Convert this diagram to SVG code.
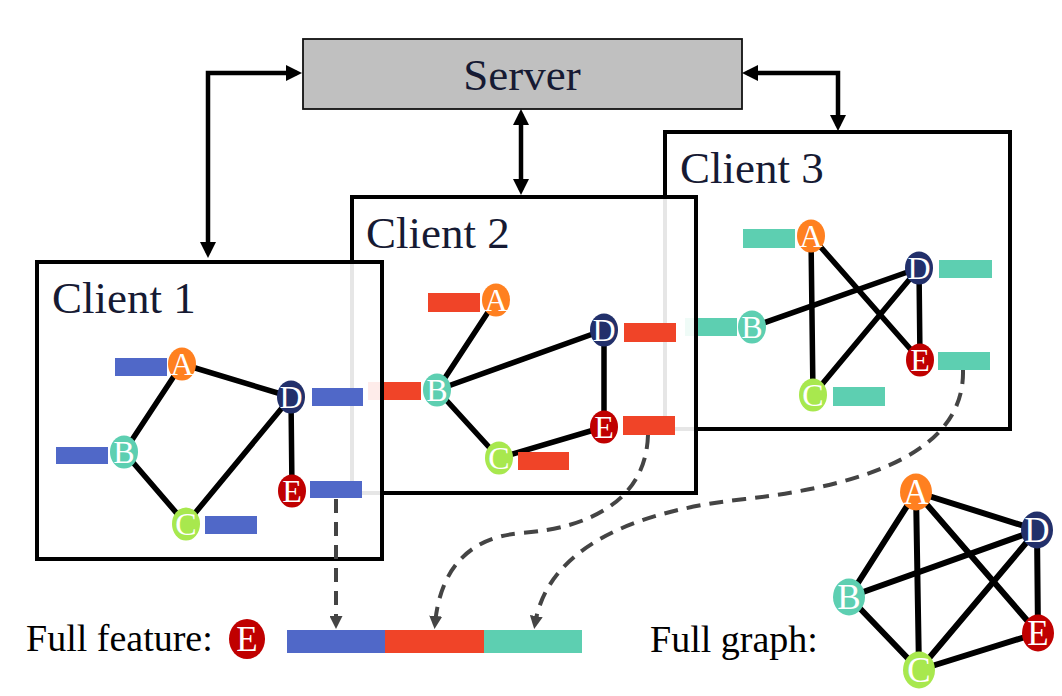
<svg xmlns="http://www.w3.org/2000/svg" width="1062" height="696" viewBox="0 0 1062 696">
<style>
.box{fill:#ffffff;fill-opacity:0.9;stroke:#000;stroke-width:4}
.ttl{font-family:"Liberation Serif","Times New Roman",serif;font-size:45px;fill:#161a33}
.lbl{font-family:"Liberation Serif","Times New Roman",serif;font-size:38px;fill:#000}
.edge{stroke:#000;stroke-width:5.5;stroke-linecap:round}
.fedge{stroke:#000;stroke-width:6;stroke-linecap:round}
.nt{font-family:"Liberation Serif","Times New Roman",serif;font-size:32px;fill:#fff;text-anchor:middle}
.ntb{font-family:"Liberation Serif","Times New Roman",serif;font-size:35px;fill:#fff;text-anchor:middle}
.nA{fill:#ff8020}.nB{fill:#5dcfb1}.nC{fill:#a8e84e}.nD{fill:#22306b}.nE{fill:#c00000}
.fb{fill:#5068c8}.fr{fill:#f04428}.ft{fill:#5dcfb1}
.conn{fill:none;stroke:#000;stroke-width:4.5}
.dash{fill:none;stroke:#444;stroke-width:4;stroke-dasharray:14 9}
</style>
<defs>
<marker id="ah" viewBox="0 0 16 16" refX="11" refY="8" markerWidth="16" markerHeight="16" markerUnits="userSpaceOnUse" orient="auto-start-reverse">
<path d="M0,0 L16,8 L0,16 z" fill="#000"/>
</marker>
<marker id="dh" viewBox="0 0 13 13" refX="8" refY="6.5" markerWidth="13" markerHeight="13" markerUnits="userSpaceOnUse" orient="auto">
<path d="M0,0 L13,6.5 L0,13 z" fill="#444"/>
</marker>
</defs>

<g id="server">
<rect x="303" y="39" width="439" height="70" fill="#c0c0c0" stroke="#111" stroke-width="1.8"/>
<text x="522" y="90" class="ttl" text-anchor="middle">Server</text>
</g>

<g id="client3">
<rect class="box" x="665" y="132" width="345" height="297"/>
<text class="ttl" x="680" y="183">Client 3</text>
<g>
<line class="edge" x1="811" y1="236" x2="813" y2="395"/>
<line class="edge" x1="811" y1="236" x2="920" y2="360"/>
<line class="edge" x1="752" y1="327" x2="919" y2="268"/>
<line class="edge" x1="813" y1="395" x2="919" y2="268"/>
<line class="edge" x1="919" y1="268" x2="920" y2="360"/>
</g>
<rect class="ft" x="743" y="229" width="52" height="19"/>
<rect class="ft" x="939" y="260" width="53" height="18"/>
<rect class="ft" x="685" y="318" width="52" height="18"/>
<rect class="ft" x="938" y="352" width="52" height="18"/>
<rect class="ft" x="833" y="387" width="52" height="19"/>
<ellipse class="nA" cx="811" cy="236" rx="14" ry="16.5"/><text class="nt" x="811" y="247">A</text>
<ellipse class="nD" cx="919" cy="268" rx="14" ry="16.5"/><text class="nt" x="919" y="279">D</text>
<ellipse class="nB" cx="752" cy="327" rx="14" ry="16.5"/><text class="nt" x="752" y="338">B</text>
<ellipse class="nE" cx="920" cy="360" rx="14" ry="16.5"/><text class="nt" x="920" y="371">E</text>
<ellipse class="nC" cx="813" cy="395" rx="14" ry="16.5"/><text class="nt" x="813" y="406">C</text>
</g>

<g id="client2">
<rect class="box" x="352" y="197" width="344" height="296"/>
<text class="ttl" x="366" y="248">Client 2</text>
<g>
<line class="edge" x1="496" y1="300" x2="437" y2="390"/>
<line class="edge" x1="437" y1="390" x2="604" y2="330"/>
<line class="edge" x1="437" y1="390" x2="499" y2="458"/>
<line class="edge" x1="499" y1="458" x2="604" y2="427"/>
<line class="edge" x1="604" y1="330" x2="604" y2="427"/>
</g>
<rect class="fr" x="428" y="293" width="52" height="19"/>
<rect class="fr" x="624" y="323" width="52" height="19"/>
<rect class="fr" x="368" y="382" width="53" height="18"/>
<rect class="fr" x="623" y="416" width="52" height="19"/>
<rect class="fr" x="518" y="452" width="51" height="18"/>
<ellipse class="nA" cx="496" cy="300" rx="14" ry="16.5"/><text class="nt" x="496" y="311">A</text>
<ellipse class="nD" cx="604" cy="330" rx="14" ry="16.5"/><text class="nt" x="604" y="341">D</text>
<ellipse class="nB" cx="437" cy="390" rx="14" ry="16.5"/><text class="nt" x="437" y="401">B</text>
<ellipse class="nE" cx="604" cy="427" rx="14" ry="16.5"/><text class="nt" x="604" y="438">E</text>
<ellipse class="nC" cx="499" cy="458" rx="14" ry="16.5"/><text class="nt" x="499" y="469">C</text>
</g>

<g id="client1">
<rect class="box" x="37" y="262" width="345" height="297"/>
<text class="ttl" x="52" y="313">Client 1</text>
<g>
<line class="edge" x1="182" y1="364" x2="124" y2="452"/>
<line class="edge" x1="182" y1="364" x2="291" y2="397"/>
<line class="edge" x1="124" y1="452" x2="186" y2="524"/>
<line class="edge" x1="186" y1="524" x2="291" y2="397"/>
<line class="edge" x1="291" y1="397" x2="292" y2="491"/>
</g>
<rect class="fb" x="115" y="358" width="52" height="18"/>
<rect class="fb" x="312" y="388" width="51" height="18"/>
<rect class="fb" x="56" y="447" width="52" height="17"/>
<rect class="fb" x="310" y="481" width="52" height="17"/>
<rect class="fb" x="205" y="516" width="52" height="18"/>
<ellipse class="nA" cx="182" cy="364" rx="14" ry="16.5"/><text class="nt" x="182" y="375">A</text>
<ellipse class="nD" cx="291" cy="397" rx="14" ry="16.5"/><text class="nt" x="291" y="408">D</text>
<ellipse class="nB" cx="124" cy="452" rx="14" ry="16.5"/><text class="nt" x="124" y="463">B</text>
<ellipse class="nE" cx="292" cy="491" rx="14" ry="16.5"/><text class="nt" x="292" y="502">E</text>
<ellipse class="nC" cx="186" cy="524" rx="14" ry="16.5"/><text class="nt" x="186" y="535">C</text>
</g>

<g id="full-feature">
<text class="lbl" x="26" y="651">Full feature:</text>
<ellipse class="nE" cx="247" cy="639" rx="18" ry="20"/><text class="ntb" x="247" y="651">E</text>
<rect class="fb" x="287" y="630" width="98" height="23"/>
<rect class="fr" x="385" y="630" width="99" height="23"/>
<rect class="ft" x="484" y="630" width="98" height="23"/>
</g>

<g id="full-graph">
<text class="lbl" x="650" y="652">Full graph:</text>
<g>
<line class="fedge" x1="916" y1="492" x2="849" y2="597"/>
<line class="fedge" x1="916" y1="492" x2="919" y2="670"/>
<line class="fedge" x1="916" y1="492" x2="1037" y2="530"/>
<line class="fedge" x1="916" y1="492" x2="1038" y2="633"/>
<line class="fedge" x1="849" y1="597" x2="1037" y2="530"/>
<line class="fedge" x1="849" y1="597" x2="919" y2="670"/>
<line class="fedge" x1="919" y1="670" x2="1037" y2="530"/>
<line class="fedge" x1="919" y1="670" x2="1038" y2="633"/>
<line class="fedge" x1="1037" y1="530" x2="1038" y2="633"/>
</g>
<ellipse class="nA" cx="916" cy="492" rx="16" ry="18.5"/><text class="ntb" x="916" y="504">A</text>
<ellipse class="nD" cx="1037" cy="530" rx="16" ry="18.5"/><text class="ntb" x="1037" y="542">D</text>
<ellipse class="nB" cx="849" cy="597" rx="16" ry="18.5"/><text class="ntb" x="849" y="609">B</text>
<ellipse class="nE" cx="1038" cy="633" rx="16" ry="18.5"/><text class="ntb" x="1038" y="645">E</text>
<ellipse class="nC" cx="919" cy="670" rx="16" ry="18.5"/><text class="ntb" x="919" y="682">C</text>
</g>

<g id="connectors">
<path class="conn" d="M208,253 L208,73 L297,73" marker-start="url(#ah)" marker-end="url(#ah)"/>
<path class="conn" d="M521,114 L521,190" marker-start="url(#ah)" marker-end="url(#ah)"/>
<path class="conn" d="M747,73 L838,73 L838,126" marker-start="url(#ah)" marker-end="url(#ah)"/>
<path class="dash" d="M336,499 L336,624" marker-end="url(#dh)"/>
<path class="dash" d="M648,435 C646,500 590,528 522,533 C468,537 440,570 435,624" marker-end="url(#dh)"/>
<path class="dash" d="M963,370 C965,450 870,485 745,499 C640,510 548,545 535,624" marker-end="url(#dh)"/>
</g>
</svg>
